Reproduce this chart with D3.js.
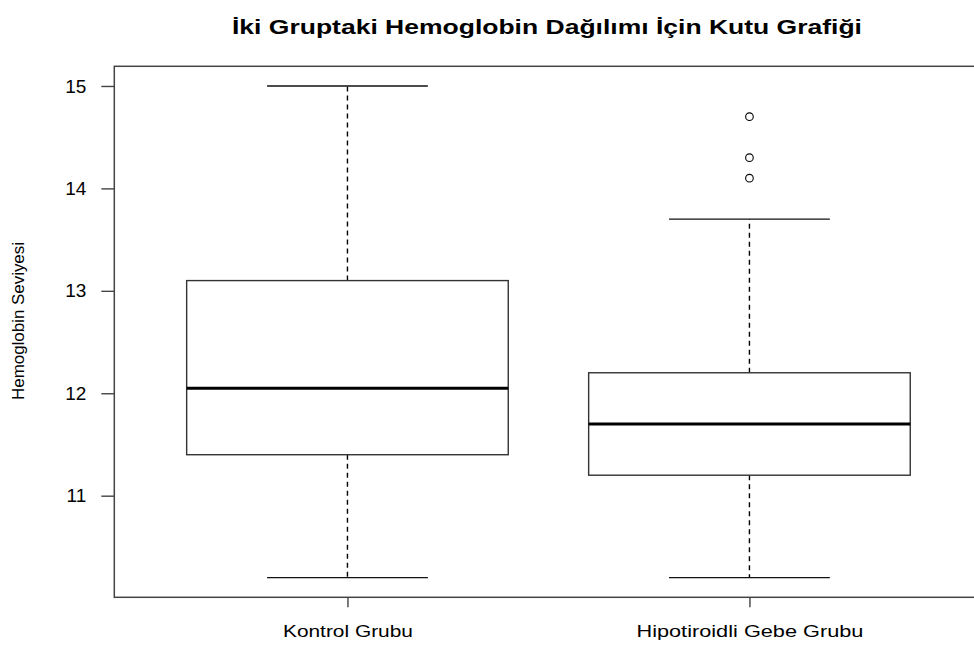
<!DOCTYPE html>
<html>
<head>
<meta charset="utf-8">
<script src="https://cdn.jsdelivr.net/npm/d3@7"></script>
<style>
  html, body { margin: 0; padding: 0; background: #fff; }
  svg { display: block; font-family: "Liberation Sans", Arial, sans-serif; }
</style>
</head>
<body>
<svg id="chart" width="974" height="648"></svg>
<script>
// ---- data ----
const categories = ["Kontrol Grubu", "Hipotiroidli Gebe Grubu"];
const whiskerLow = [10.2, 10.2];
const q1 = [11.4, 11.2];
const median = [12.05, 11.7];
const q3 = [13.1, 12.2];
const whiskerHigh = [15.0, 13.7];
const outliers = [[], [14.1, 14.3, 14.7]];
const yTicks = [11, 12, 13, 14, 15];
const titleText = "İki Gruptaki Hemoglobin Dağılımı İçin Kutu Grafiği";
const yLabelText = "Hemoglobin Seviyesi";

// ---- layout ----
const svg = d3.select("#chart");
const plot = { left: 114.3, right: 982.6, top: 66.3, bottom: 597.3 };

const x = d3.scaleLinear().domain([0.42, 2.58]).range([plot.left, plot.right]);
const y = d3.scaleLinear().domain([10.008, 15.192]).range([plot.bottom, plot.top]);

const boxHalf = (x(1.4) - x(0.6)) / 2;
const capHalf = boxHalf / 2;

const g = svg.append("g");

categories.forEach((c, i) => {
  const cx = x(i + 1);
  // whiskers (dashed)
  g.append("line").attr("x1", cx).attr("x2", cx)
    .attr("y1", y(q3[i])).attr("y2", y(whiskerHigh[i]))
    .attr("stroke", "#000").attr("stroke-width", 1.4).attr("stroke-dasharray", "5,4");
  g.append("line").attr("x1", cx).attr("x2", cx)
    .attr("y1", y(q1[i])).attr("y2", y(whiskerLow[i]))
    .attr("stroke", "#000").attr("stroke-width", 1.4).attr("stroke-dasharray", "5,4");
  // caps
  [whiskerHigh[i], whiskerLow[i]].forEach(v => {
    g.append("line").attr("x1", cx - capHalf).attr("x2", cx + capHalf)
      .attr("y1", y(v)).attr("y2", y(v))
      .attr("stroke", "#111").attr("stroke-width", 1.4);
  });
  // box
  g.append("rect")
    .attr("x", cx - boxHalf).attr("width", 2 * boxHalf)
    .attr("y", y(q3[i])).attr("height", y(q1[i]) - y(q3[i]))
    .attr("fill", "none").attr("stroke", "#333").attr("stroke-width", 1.4);
  // median
  g.append("line").attr("x1", cx - boxHalf).attr("x2", cx + boxHalf)
    .attr("y1", y(median[i])).attr("y2", y(median[i]))
    .attr("stroke", "#000").attr("stroke-width", 3);
  // outliers
  outliers[i].forEach(v => {
    g.append("circle").attr("cx", cx).attr("cy", y(v)).attr("r", 3.8)
      .attr("fill", "none").attr("stroke", "#000").attr("stroke-width", 1.1);
  });
});

// frame
svg.append("rect")
  .attr("x", plot.left).attr("y", plot.top)
  .attr("width", plot.right - plot.left).attr("height", plot.bottom - plot.top)
  .attr("fill", "none").attr("stroke", "#444").attr("stroke-width", 1.5);

// y axis
const yAxis = d3.axisLeft(y).tickValues(yTicks).tickSize(13).tickSizeOuter(0).tickPadding(15)
  .tickFormat(d3.format("d"));
const ya = svg.append("g").attr("transform", `translate(${plot.left},0)`).call(yAxis);
ya.select(".domain").remove();
ya.selectAll(".tick line").attr("stroke", "#444").attr("stroke-width", 1.4);
ya.selectAll(".tick text").attr("font-size", 19).attr("fill", "#000")
  .attr("font-family", "'Liberation Sans', Arial, sans-serif");

// x axis
const xAxis = d3.axisBottom(x).tickValues([1, 2]).tickSize(10).tickSizeOuter(0).tickPadding(18)
  .tickFormat(d => categories[d - 1]);
const xa = svg.append("g").attr("transform", `translate(0,${plot.bottom})`).call(xAxis);
xa.select(".domain").remove();
xa.selectAll(".tick line").attr("stroke", "#444").attr("stroke-width", 1.4);
const xLabelWidths = [130, 227];
xa.selectAll(".tick text").attr("font-size", 17).attr("fill", "#000")
  .attr("font-family", "'Liberation Sans', Arial, sans-serif")
  .attr("textLength", (d, i) => xLabelWidths[i]).attr("lengthAdjust", "spacingAndGlyphs");

// title
svg.append("text")
  .attr("x", 547).attr("y", 34)
  .attr("text-anchor", "middle")
  .attr("font-size", 20).attr("font-weight", "bold").attr("fill", "#000")
  .attr("textLength", 630).attr("lengthAdjust", "spacingAndGlyphs")
  .text(titleText);

// y label
svg.append("text")
  .attr("transform", "translate(24,321) rotate(-90)")
  .attr("text-anchor", "middle")
  .attr("font-size", 16).attr("fill", "#000")
  .attr("textLength", 158).attr("lengthAdjust", "spacingAndGlyphs")
  .text(yLabelText);
</script>
</body>
</html>
